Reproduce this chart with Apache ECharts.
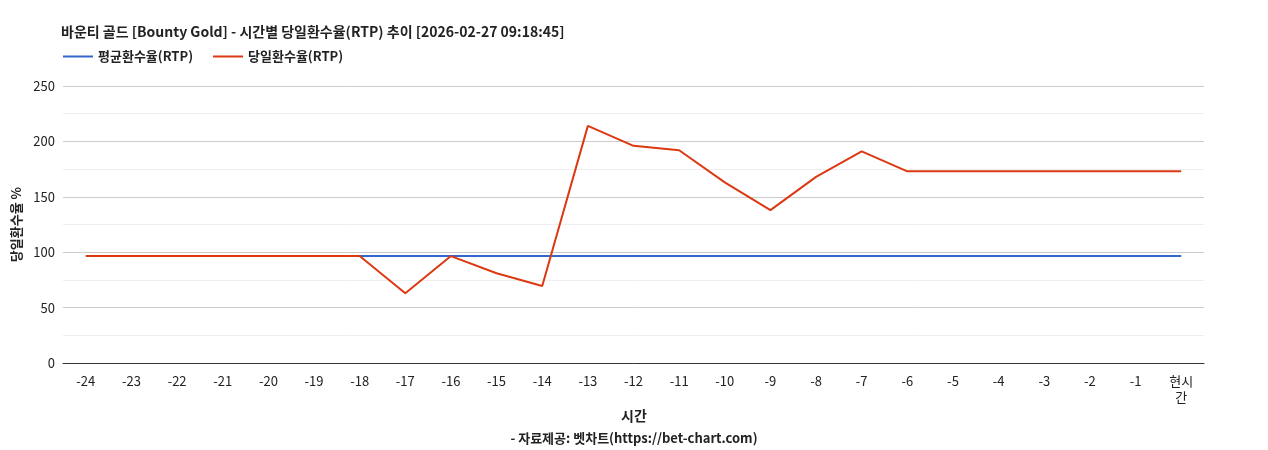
<!DOCTYPE html>
<html>
<head>
<meta charset="utf-8">
<script src="https://cdn.jsdelivr.net/npm/echarts@6/dist/echarts.min.js"></script>
<style>body{margin:0;background:#fff}#chart{width:1268px;height:450px}</style>
</head>
<body>
<div id="chart"></div>
<script>
const hours = ['-24','-23','-22','-21','-20','-19','-18','-17','-16','-15','-14','-13','-12','-11','-10','-9','-8','-7','-6','-5','-4','-3','-2','-1','현시\n간'];
const avgRtp = [96.5,96.5,96.5,96.5,96.5,96.5,96.5,96.5,96.5,96.5,96.5,96.5,96.5,96.5,96.5,96.5,96.5,96.5,96.5,96.5,96.5,96.5,96.5,96.5,96.5];
const dayRtp = [96.5,96.5,96.5,96.5,96.5,96.5,96.5,63,96.5,81,69.5,214,196,192,163,138,168,191,173,173,173,173,173,173,173];

const font = 'Noto Sans CJK KR, Noto Sans, sans-serif';
const chart = echarts.init(document.getElementById('chart'));
chart.setOption({
    animation: false,
    textStyle: {fontFamily: font},
    title: [
        {text: '바운티 골드 [Bounty Gold] - 시간별 당일환수율(RTP) 추이 [2026-02-27 09:18:45]', left: 56, top: 20,
         textStyle: {fontSize: 14, fontWeight: 'bold', color: '#222', fontFamily: font}},
        {text: '시간', left: 'center', top: 404, textStyle: {fontSize: 14, fontWeight: 'bold', color: '#222', fontFamily: font}},
        {text: '- 자료제공: 벳차트(https://bet-chart.com)', left: 'center', top: 427,
         textStyle: {fontSize: 13, fontWeight: 'bold', color: '#222', fontFamily: font}}
    ],
    legend: {
        left: 58, top: 45, itemWidth: 30, itemHeight: 2, itemGap: 20,
        icon: 'rect',
        textStyle: {fontSize: 13, fontWeight: 'bold', color: '#222'},
        data: ['평균환수율(RTP)', '당일환수율(RTP)']
    },
    grid: {left: 63, right: 64, top: 86, bottom: 87},
    xAxis: {
        type: 'category', data: hours, boundaryGap: true,
        axisLine: {lineStyle: {color: '#333'}},
        axisTick: {show: false},
        axisLabel: {color: '#222', fontSize: 13, margin: 10, interval: 0, lineHeight: 16}
    },
    yAxis: {
        type: 'value', min: 0, max: 250, interval: 50,
        name: '당일환수율 %', nameLocation: 'middle', nameGap: 30, nameRotate: 90,
        nameTextStyle: {fontSize: 13, fontWeight: 'bold', color: '#222'},
        axisLabel: {color: '#222', fontSize: 13},
        splitLine: {lineStyle: {color: '#ccc'}},
        minorTick: {show: false, splitNumber: 2},
        minorSplitLine: {show: true, lineStyle: {color: '#eee'}}
    },
    series: [
        {name: '평균환수율(RTP)', type: 'line', data: avgRtp, symbol: 'none', color: '#3366cc', lineStyle: {width: 2}},
        {name: '당일환수율(RTP)', type: 'line', data: dayRtp, symbol: 'none', color: '#dc3912', lineStyle: {width: 2}}
    ]
});
</script>
</body>
</html>
